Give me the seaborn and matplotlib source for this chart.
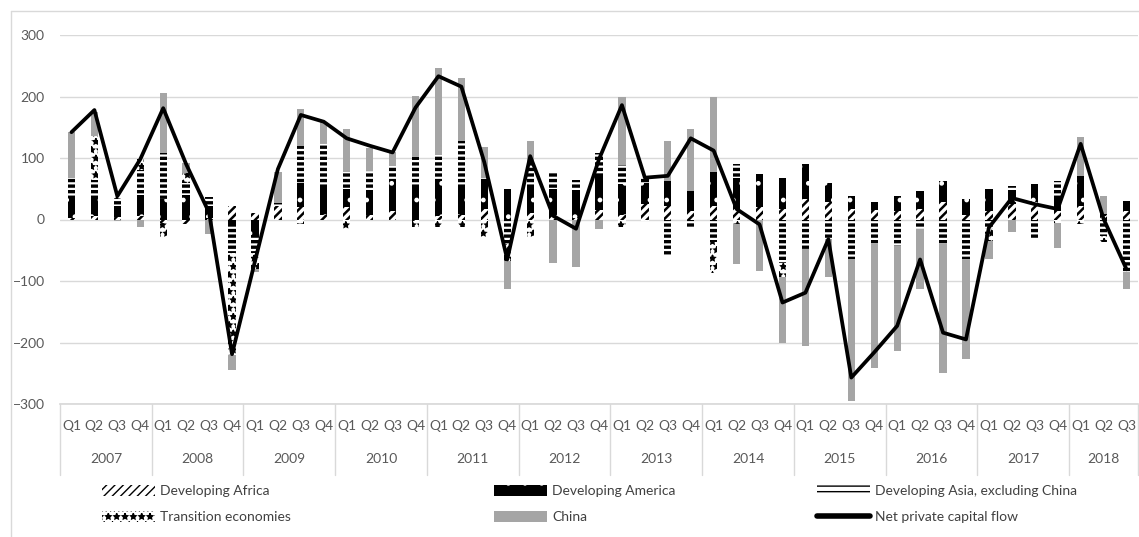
import numpy as np
import pandas as pd
import matplotlib
matplotlib.use("Agg")
import matplotlib.pyplot as plt
import matplotlib.transforms as mtransforms
from matplotlib.patches import Patch
from matplotlib.lines import Line2D
import seaborn as sns

# quarters 2007Q1 .. 2018Q3
years = [str(y) for y in range(2007, 2019)]
quarters = ["Q1", "Q2", "Q3", "Q4"]
periods = [f"{y} {q}" for y in years for q in quarters][:47]

africa = [3, 5, 4, 5, -5, -8, 2, 22, 10, 22,
          20, 8, 20, 8, 14, -3, 5, 8, 17, 0,
          10, 5, 3, 15, 8, 25, 22, 14, 22, 17,
          20, 17, 33, 28, 17, 16, 14, 17, 28, 8,
          14, 25, 28, 14, 22, 6, 14]
america = [35, 30, 18, 35, 33, 40, 20, -10, -25, 0,
           40, 45, 30, 35, 50, 55, 60, 45, 45, 49,
           45, 45, 45, 55, 50, 35, 40, 33, 55, 50,
           54, 51, 57, 32, 22, 12, 25, 30, 35, 25,
           35, 20, 30, 24, 49, 3, 16]
asia = [30, 30, 12, 40, 75, 20, 14, -45, -30, 5,
        60, 72, 27, 36, 23, 48, 40, 75, 6, -40,
        38, 26, 17, 38, 30, 8, -59, -12, -37, 23,
        0, -70, -48, -32, -65, -40, -43, -16, -40, -65,
        -15, 10, -32, 25, 0, -27, -86]
transition = [0, 70, 5, 18, -25, 16, 0, -165, -25, 0,
              -8, 0, -15, 0, 0, -10, -12, -12, -28, -28,
              -28, 0, 0, 0, -12, -3, 0, 0, -50, -8,
              0, -24, 0, 0, 0, 0, 0, 0, 0, 0,
              -20, 0, 0, -5, -8, -10, 0]
china = [75, 40, -3, -12, 98, 16, -24, -25, -5, 50,
         60, 33, 70, 38, 22, 98, 142, 102, 50, -45,
         35, -70, -78, -15, 112, 0, 65, 100, 122, -65,
         -84, -106, -158, -62, -230, -201, -171, -97, -209, -162,
         -30, -20, 0, -41, 63, 30, -27]
net_flow = [142, 178, 38, 98, 181, 90, 11, -219, -68, 82,
            170, 159, 132, 120, 109, 182, 233, 216, 93, -65,
            103, 6, -15, 98, 186, 68, 71, 132, 112, 17,
            -8, -135, -119, -32, -257, -216, -173, -65, -184, -195,
            -13, 35, 25, 17, 123, 1, -81]

sns.set_theme(style="white")
plt.rcParams["font.family"] = ["Lato", "DejaVu Sans"]

W, H = 1139, 537
fig = plt.figure(figsize=(W / 100, H / 100), dpi=100)
ax = fig.add_axes([60 / W, 1 - 404 / H, 1078 / W, 369 / H])

# name, values, bar style, hatch line width
series = [
    ("Developing Africa", africa, dict(color="white", edgecolor="black", hatch="////"), 1.8),
    ("Developing America", america, dict(color="black", edgecolor="white", hatch="."), 1.0),
    ("Developing Asia, excluding China", asia, dict(color="white", edgecolor="black", hatch="---"), 2.4),
    ("Transition economies", transition, dict(color="white", edgecolor="black", hatch="**"), 1.0),
    ("China", china, dict(color="#A5A5A5", edgecolor="#A5A5A5", hatch=None), 1.0),
]

pos_base = np.zeros(len(periods))
neg_base = np.zeros(len(periods))
for name, vals, style, hlw in series:
    v = np.array(vals, dtype=float)
    bottom = np.where(v >= 0, pos_base, neg_base)
    df = pd.DataFrame({"period": periods, "value": v})
    with plt.rc_context({"hatch.linewidth": hlw}):
        sns.barplot(data=df, x="period", y="value", order=periods, bottom=bottom,
                    width=0.32, linewidth=0, saturation=1, errorbar=None, ax=ax, **style)
    pos_base += np.clip(v, 0, None)
    neg_base += np.clip(v, None, 0)

line_df = pd.DataFrame({"pos": np.arange(len(periods)), "flow": net_flow})
sns.lineplot(data=line_df, x="pos", y="flow", color="black", linewidth=2.7, ax=ax)

ax.set_ylim(-300, 300)
ax.set_xlim(-0.5, len(periods) - 0.5)
ax.set_yticks(range(-300, 301, 100))
ax.yaxis.grid(True, color="#D9D9D9", linewidth=1)
ax.set_axisbelow(True)
for s in ["top", "right", "left"]:
    ax.spines[s].set_visible(False)
ax.spines["bottom"].set_color("#D9D9D9")
ax.set_xlabel("")
ax.set_ylabel("")
ax.set_xticks([])
ax.tick_params(axis="y", labelsize=10, labelcolor="#595959", length=0, pad=11)

# two-level category axis
trans = mtransforms.blended_transform_factory(ax.transData, ax.transAxes)
ph = 369.0
for i, p in enumerate(periods):
    ax.text(i, -22 / ph, p.split()[1], transform=trans, ha="center", va="center",
            fontsize=10, color="#595959")
for k, y in enumerate(years):
    idx = [i for i, p in enumerate(periods) if p.startswith(y)]
    ax.text(np.mean(idx), -55 / ph, y, transform=trans, ha="center", va="center",
            fontsize=10, color="#595959")
    ax.plot([idx[0] - 0.5] * 2, [0, -71 / ph], transform=trans, color="#D9D9D9",
            linewidth=1, clip_on=False)
ax.plot([len(periods) - 0.5] * 2, [0, -71 / ph], transform=trans, color="#D9D9D9",
        linewidth=1, clip_on=False)

# legends: three columns
def patch(style, label):
    return Patch(facecolor=style["color"], edgecolor=style["edgecolor"],
                 hatch=style["hatch"], linewidth=0, label=label)

h = {}
for name, _, st, hlw in series:
    with plt.rc_context({"hatch.linewidth": hlw}):
        h[name] = patch(st, name)
line_handle = Line2D([0], [0], color="black", linewidth=4, label="Net private capital flow")
cols = [
    ([h["Developing Africa"], h["Transition economies"]], 102),
    ([h["Developing America"], h["China"]], 494),
    ([h["Developing Asia, excluding China"], line_handle], 817),
]
for handles, x0 in cols:
    leg = fig.legend(handles=handles, loc="upper left", bbox_to_anchor=(x0 / W, 1 - 485 / H),
                     frameon=False, fontsize=10, handlelength=3.8, handleheight=0.8,
                     handletextpad=0.4, labelspacing=1.0, borderpad=0, borderaxespad=0)
    for t in leg.get_texts():
        t.set_color("#404040")

# chart area border (top and left visible)
fig.add_artist(Line2D([11 / W, 11 / W], [0, 1 - 11 / H], transform=fig.transFigure,
                      color="#D9D9D9", linewidth=1))
fig.add_artist(Line2D([11 / W, 1], [1 - 11 / H, 1 - 11 / H], transform=fig.transFigure,
                      color="#D9D9D9", linewidth=1))

fig.savefig("out.png", dpi=100)
